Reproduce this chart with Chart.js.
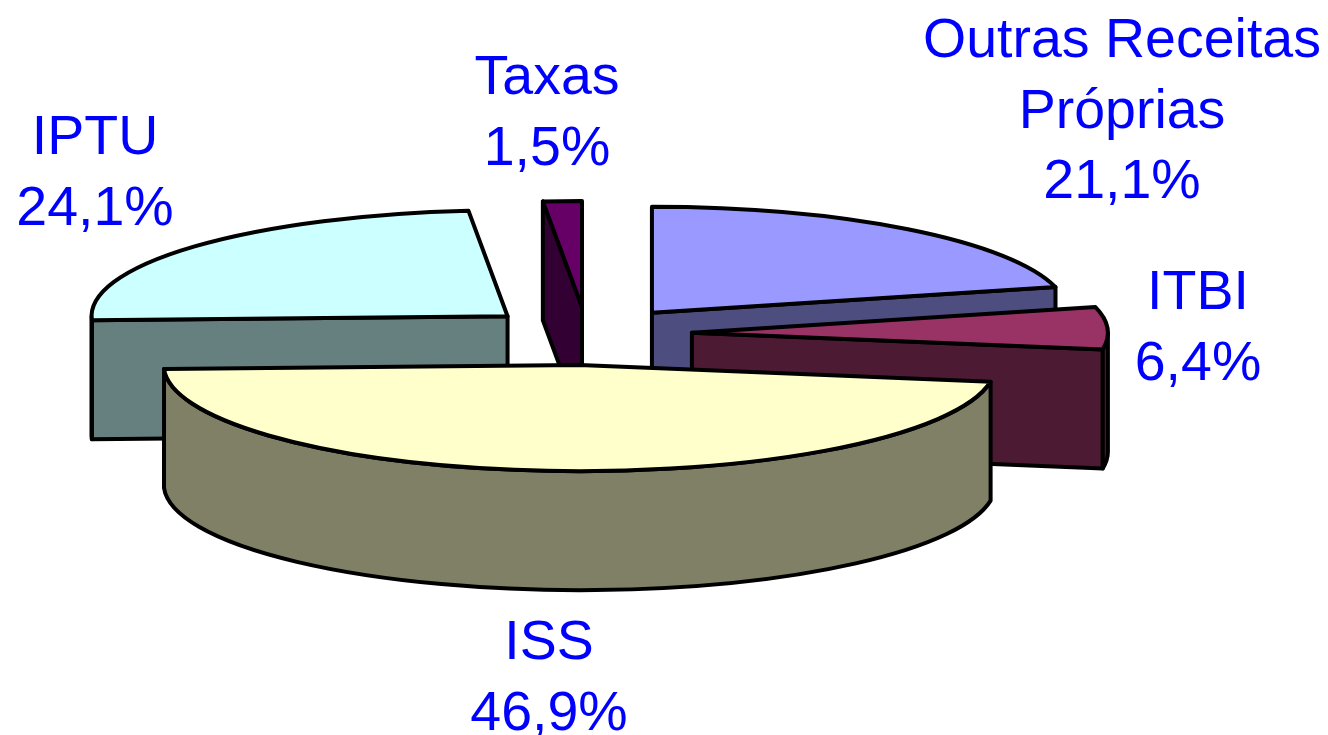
<!DOCTYPE html>
<html>
<head>
<meta charset="utf-8">
<style>html,body{margin:0;padding:0;background:#fff}canvas{display:block}</style>
<script src="https://cdn.jsdelivr.net/npm/chart.js@4/dist/chart.umd.min.js"></script>
</head>
<body>
<canvas id="c" width="1328" height="735"></canvas>
<script>
const categories = ["Outras Receitas\nPróprias", "ITBI", "ISS", "IPTU", "Taxas"];
const shares = [21.1, 6.4, 46.9, 24.1, 1.5];
const topColors = ["#9999FF", "#993366", "#FFFFCC", "#CCFFFF", "#660066"];
const sideColors = ["#4D4D80", "#4D1A33", "#808066", "#668080", "#330033"];
const explode = [105.5, 105, 122, 105.6, 106];
const labelAnchors = [[1122, 42], [1198, 294], [549, 644], [95, 139], [547, 79]];
const paintOrder = [0, 1, 4, 3, 2];

const TILT = 0.255, DEPTH = 119, EDGE = 4, FONT_SIZE = 55.5, LINE_GAP = 70.5;

const pie3d = {
  id: 'pie3d',
  beforeDatasetDraw(chart, args) {
    const ctx = chart.ctx;
    const arcs = args.meta.data;
    const frame = (arc) => {
      const p = arc.getProps(['x', 'y', 'startAngle', 'endAngle', 'outerRadius'], true);
      const mid = (p.startAngle + p.endAngle) / 2;
      const off = arc.options.offset || 0;
      const ax = p.x + Math.cos(mid) * off;
      const ay = p.y + Math.sin(mid) * off * TILT;
      const pt = (a, dz) => [ax + Math.cos(a) * p.outerRadius,
                             ay + Math.sin(a) * p.outerRadius * TILT + (dz || 0)];
      return { ...p, ax, ay, pt };
    };
    const ellipse = (f, from, to, dz, back) => {
      const ry = f.outerRadius * TILT;
      ctx.ellipse(f.ax, f.ay + dz, f.outerRadius, ry, 0, from, to, back);
    };
    const stroke = (fill) => {
      ctx.fillStyle = fill;
      ctx.strokeStyle = '#000';
      ctx.lineWidth = EDGE;
      ctx.lineJoin = 'round';
      ctx.fill();
      ctx.stroke();
    };
    const face = (f, a, fill) => {
      const e = f.pt(a), b = f.pt(a, DEPTH);
      ctx.beginPath();
      ctx.moveTo(f.ax, f.ay);
      ctx.lineTo(e[0], e[1]);
      ctx.lineTo(b[0], b[1]);
      ctx.lineTo(f.ax, f.ay + DEPTH);
      ctx.closePath();
      stroke(fill);
    };
    paintOrder.forEach((i) => {
      const f = frame(arcs[i]);
      if (Math.cos(f.startAngle) < -1e-6) face(f, f.startAngle, sideColors[i]);
      if (Math.cos(f.endAngle) > 1e-6) face(f, f.endAngle, sideColors[i]);
      // outer wall: only the part of the rim that faces the viewer
      const tau = Math.PI * 2;
      for (const k of [-1, 0, 1]) {
        const from = Math.max(f.startAngle, k * tau);
        const to = Math.min(f.endAngle, k * tau + Math.PI);
        if (to > from) {
          ctx.beginPath();
          ellipse(f, from, to, 0, false);
          ellipse(f, to, from, DEPTH, true);
          ctx.closePath();
          stroke(sideColors[i]);
        }
      }
      ctx.beginPath();
      ctx.moveTo(f.ax, f.ay);
      ellipse(f, f.startAngle, f.endAngle, 0, false);
      ctx.closePath();
      stroke(topColors[i]);
    });
    return false;
  },
  afterDatasetsDraw(chart) {
    const ctx = chart.ctx;
    ctx.save();
    ctx.fillStyle = '#0000FF';
    ctx.font = FONT_SIZE + 'px "Liberation Sans", Arial, sans-serif';
    ctx.textAlign = 'center';
    ctx.textBaseline = 'middle';
    categories.forEach((name, i) => {
      const lines = name.split('\n').concat(shares[i].toFixed(1).replace('.', ',') + '%');
      lines.forEach((t, n) => ctx.fillText(t, labelAnchors[i][0], labelAnchors[i][1] + n * LINE_GAP));
    });
    ctx.restore();
  }
};

new Chart(document.getElementById('c'), {
  type: 'pie',
  data: {
    labels: categories.map(s => s.replace('\n', ' ')),
    datasets: [{
      data: shares,
      backgroundColor: topColors,
      borderColor: '#000',
      borderWidth: 0,
      offset: explode
    }]
  },
  options: {
    responsive: false,
    animation: false,
    radius: 416,
    rotation: 0,
    layout: { padding: { right: 154, bottom: 67 } },
    plugins: { legend: { display: false }, tooltip: { enabled: false }, title: { display: false } }
  },
  plugins: [pie3d]
});
</script>
</body>
</html>
